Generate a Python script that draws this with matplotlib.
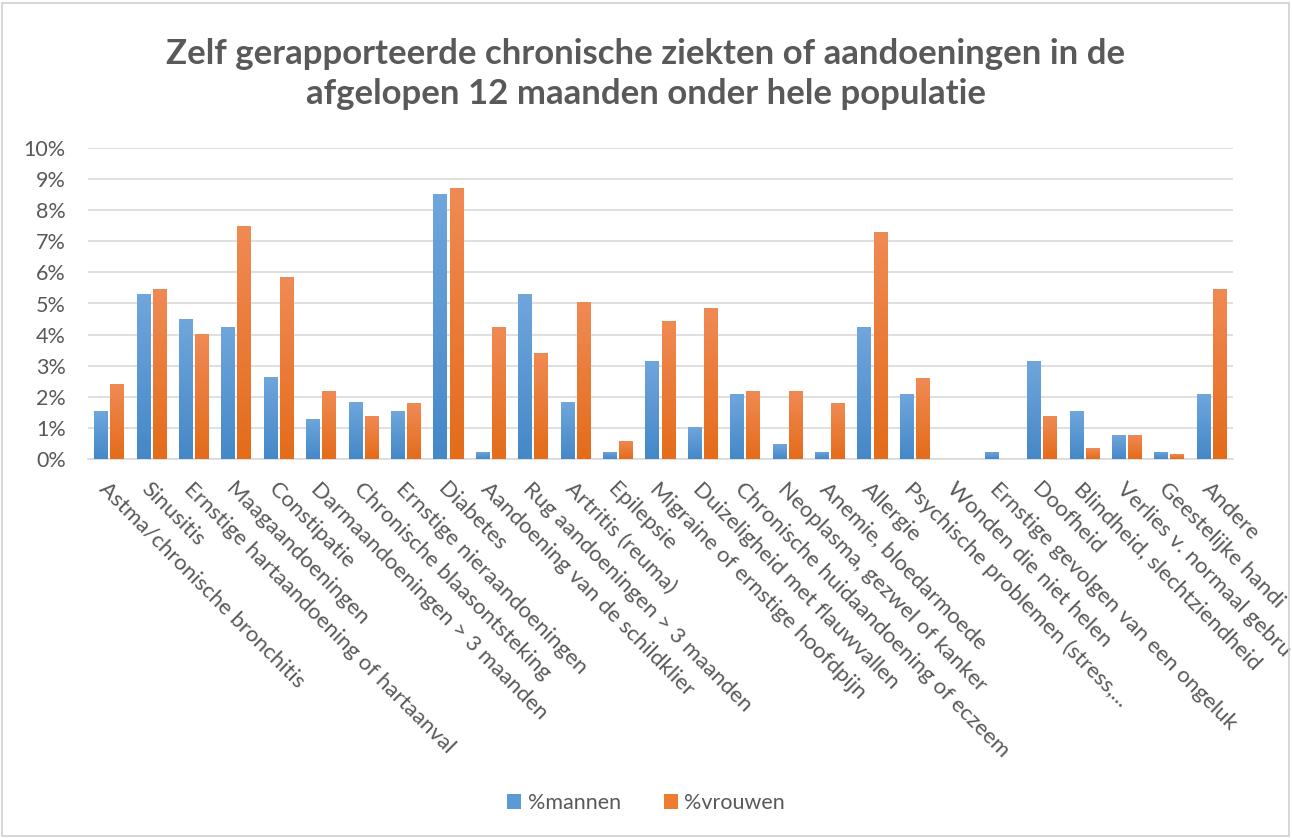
import matplotlib
matplotlib.use("Agg")
import matplotlib.pyplot as plt
import numpy as np
from matplotlib.patches import Rectangle, Patch

categories = [
    "Astma/chronische bronchitis",
    "Sinusitis",
    "Ernstige hartaandoening of hartaanval",
    "Maagaandoeningen",
    "Constipatie",
    "Darmaandoeningen > 3 maanden",
    "Chronische blaasontsteking",
    "Ernstige nieraandoeningen",
    "Diabetes",
    "Aandoening van de schildklier",
    "Rug aandoeningen > 3 maanden",
    "Artritis (reuma)",
    "Epilepsie",
    "Migraine of ernstige hoofdpijn",
    "Duizeligheid met flauwvallen",
    "Chronische huidaandoening of eczeem",
    "Neoplasma, gezwel of kanker",
    "Anemie, bloedarmoede",
    "Allergie",
    "Psychische problemen (stress,...",
    "Wonden die niet helen",
    "Ernstige gevolgen van een ongeluk",
    "Doofheid",
    "Blindheid, slechtziendheid",
    "Verlies v. normaal gebru",
    "Geestelijke handi",
    "Andere",
]
mannen = [1.54, 5.30, 4.50, 4.24, 2.64, 1.29, 1.83, 1.54, 8.52, 0.23, 5.30, 1.83, 0.23, 3.15,
          1.03, 2.09, 0.48, 0.23, 4.24, 2.09, 0.0, 0.23, 3.15, 1.54, 0.77, 0.23, 2.09]
vrouwen = [2.41, 5.47, 4.02, 7.49, 5.85, 2.19, 1.38, 1.80, 8.71, 4.24, 3.41, 5.05, 0.58, 4.44,
           4.86, 2.19, 2.19, 1.80, 7.30, 2.60, 0.0, 0.0, 1.38, 0.35, 0.77, 0.16, 5.47]
series_names = ["%mannen", "%vrouwen"]
yticks = list(range(0, 11))
ytick_labels = [f"{v}%" for v in yticks]
title = "Zelf gerapporteerde chronische ziekten of aandoeningen in de\nafgelopen 12 maanden onder hele populatie"

W, H = 1292, 838
fig = plt.figure(figsize=(W / 100, H / 100), dpi=100)
fig.patch.set_facecolor("white")
fig.patches.append(Rectangle((2 / W, 2 / H), 1 - 5 / W, 1 - 5 / H, transform=fig.transFigure,
                             fill=False, edgecolor="#D0D0D0", linewidth=1.2))

ax = fig.add_axes([88 / W, (H - 459) / H, (1233 - 88) / W, (459 - 148) / H])
txtc = "#595959"
font = "Lato"

x = np.arange(len(categories))
bw = 0.33
gap = 0.05
blue = "#5B9BD5"
orange = "#ED7D31"

def grad_bars(xs, vals, top_c, bot_c):
    bars = ax.bar(xs, vals, bw, color=bot_c, zorder=3, linewidth=0)
    cmap = matplotlib.colors.LinearSegmentedColormap.from_list("g", [bot_c, top_c])
    for b in bars:
        h = b.get_height()
        if h <= 0:
            continue
        x0 = b.get_x()
        im = ax.imshow(np.linspace(0, 1, 100).reshape(-1, 1), cmap=cmap, aspect="auto",
                       extent=(x0, x0 + b.get_width(), 0, h), origin="lower", zorder=3.5,
                       interpolation="bilinear")
        im.set_clip_path(b)
    return bars

grad_bars(x - bw / 2 - gap / 2, mannen, "#6FA6DC", "#4588C8")
grad_bars(x + bw / 2 + gap / 2, vrouwen, "#F08A54", "#E46C1A")

ax.set_xlim(-0.5, len(categories) - 0.5)
ax.set_ylim(0, 10)
ax.set_yticks(yticks)
ax.set_yticklabels(ytick_labels, fontsize=15.5, color=txtc, family=font)
ax.yaxis.grid(True, color="#D9D9D9", linewidth=1.2, zorder=0)
ax.set_axisbelow(True)
for s in ["top", "right", "left"]:
    ax.spines[s].set_visible(False)
ax.spines["bottom"].set_color("#D9D9D9")
ax.spines["bottom"].set_linewidth(1.2)
ax.tick_params(axis="y", length=0, pad=16)
ax.tick_params(axis="x", length=0)
ax.set_xticks(x)
ax.set_xticklabels(categories, rotation=-45, ha="left", va="top", rotation_mode="anchor",
                   fontsize=16, color=txtc, family=font)
ax.tick_params(axis="x", pad=14)

fig.text(0.5, 0.912, title, ha="center", va="center", fontsize=25, fontweight="bold",
         color=txtc, family=font, linespacing=1.3)

handles = [Patch(facecolor=blue, label=series_names[0]), Patch(facecolor=orange, label=series_names[1])]
fig.legend(handles=handles, loc="center", bbox_to_anchor=(0.5, (H - 803) / H), ncol=2, frameon=False,
           prop={"family": font, "size": 15.5}, labelcolor=txtc, handlelength=0.65, handleheight=0.65,
           columnspacing=2.0, handletextpad=0.3)

fig.savefig("out.png", dpi=100)
